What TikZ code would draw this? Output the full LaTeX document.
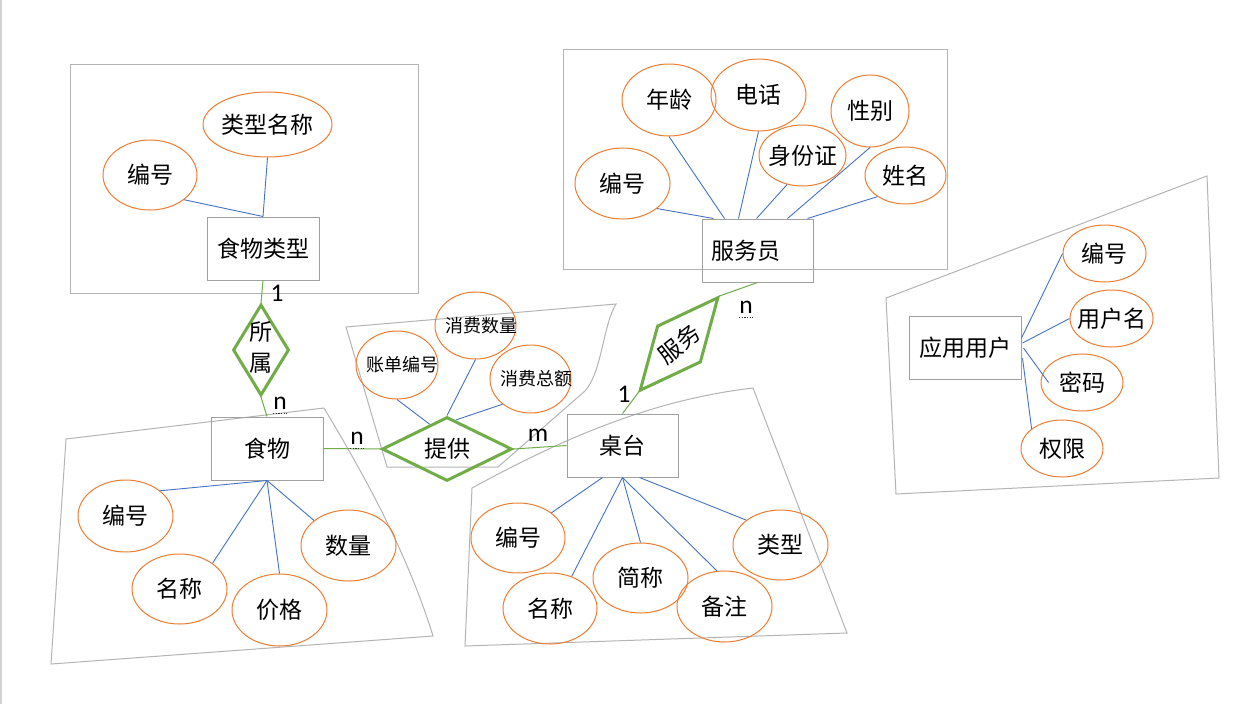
\documentclass[tikz,border=0pt]{standalone}
\usepackage{fontspec}
\usepackage{graphicx}
\setmainfont{Carlito}
\newfontfamily\cjk{Noto Sans CJK SC}
\usetikzlibrary{shapes.geometric,calc}
\definecolor{attrline}{HTML}{4472C4}
\definecolor{attrring}{HTML}{ED7D31}
\definecolor{relgreen}{HTML}{70AD47}
\definecolor{groupline}{HTML}{B4B4B4}
\definecolor{entityline}{HTML}{A0A0A0}
% zero-width text so that the ellipse size comes only from its minimum size
\newcommand{\zw}[1]{\makebox[0pt]{#1}}

\begin{document}
\begin{tikzpicture}[x=1pt,y=-1pt,
  font=\cjk\fontsize{23}{28}\selectfont,
  group/.style={draw=groupline, line width=1pt},
  entity/.style={draw=entityline, line width=1pt, rectangle, inner sep=0pt,
    minimum width=112pt, minimum height=63pt},
  attr/.style 2 args={draw=attrring, line width=1pt, ellipse, inner sep=0pt,
    minimum width=#1pt, minimum height=#2pt},
  smallattr/.style={font=\cjk\fontsize{18}{22}\selectfont},
  rel/.style={draw=relgreen, line width=3pt, diamond, inner sep=0pt},
  link/.style={draw=attrline, line width=0.9pt},
  relink/.style={draw=relgreen, line width=1pt},
  card/.style={font=\rmfamily\fontsize{25.5}{30}\selectfont, inner sep=0pt},
  spell/.style={draw=black!80, line width=1pt, dash pattern=on 1.3pt off 1.3pt},
]
\fill[white] (0,0) rectangle (1260,704);
\useasboundingbox (0,0) rectangle (1260,704);
\draw[gray!35, line width=1.5pt] (1,0) -- (1,704);

% ---------- grouping outlines ----------
\draw[group] (70,64) rectangle (418,293);
\draw[group] (563,49) rectangle (947,269);
\draw[group] (66,439) -- (324,408) .. controls (355,460) and (405,545) .. (433,636)
  -- (51,664) -- cycle;
\draw[group] (346,327) -- (616,304) .. controls (603,325) and (602,372) .. (585,391)
  -- (498,467) -- (387,467) -- cycle;
\draw[group] (472,488) .. controls (560,440) and (650,400) .. (753,388)
  -- (847,633) -- (465,646) -- cycle;
\draw[group] (886,298) -- (1207,176) -- (1219,478) -- (896,494) -- cycle;

% ---------- food type ----------
\node[entity] (ft) at (263,248.5) {食物类型};
\node[attr={94}{70}] (ftid) at (150,175) {\zw{编号}};
\node[attr={129}{65}] (ftname) at (267.5,124.5) {\zw{类型名称}};
\draw[link] (ft.north) -- (ftid.-36);
\draw[link] (ft.north) -- (ftname.south);

% ---------- waiter ----------
\node[entity, minimum width=111pt] (wt) at (757.5,250.5) {\zw{\hspace{-23pt}服务员}};
\node[attr={95}{71}] (wid) at (622.5,183.5) {\zw{编号}};
\node[attr={94}{72}] (wage) at (669,100) {\zw{年龄}};
\node[attr={95}{72}] (wtel) at (758.5,95) {\zw{电话}};
\node[attr={87}{61}] (wcard) at (802.5,155.5) {\zw{身份证}};
\node[attr={78}{72}] (wsex) at (870,111) {\zw{性别}};
\node[attr={81}{57}] (wname) at (905.5,175.5) {\zw{姓名}};
\draw[link] ($(wt.north west)+(12,0)$) -- (wid.-36.5);
\draw[link] ($(wt.north west)+(23,0)$) -- (wage.south);
\draw[link] ($(wt.north west)+(37,0)$) -- (wtel.south);
\draw[link] ($(wt.north west)+(55,0)$) -- (wcard.-118);
\draw[link] ($(wt.north west)+(86,0)$) -- (wsex.south);
\draw[link] ($(wt.north west)+(106,0)$) -- (wname.-143);

% ---------- food ----------
\node[entity] (fd) at (267,448.5) {食物};
\node[attr={95}{72}] (fdid) at (125.5,516) {\zw{编号}};
\node[attr={95}{70}] (fdname) at (179.5,589) {\zw{名称}};
\node[attr={95}{72}] (fdprice) at (279.5,610) {\zw{价格}};
\node[attr={95}{71}] (fdqty) at (348.5,545.5) {\zw{数量}};
\draw[link] (fd.south) -- (fdid.36);
\draw[link] (fd.south) -- (fdname.38);
\draw[link] (fd.south) -- (fdprice.north);
\draw[link] (fd.south) -- (fdqty.144);

% ---------- supply (relationship with attributes) ----------
\node[rel, minimum width=130pt, minimum height=64pt] (pv) at (447,449) {\zw{提供}};
\node[attr={82}{68}, smallattr] (pvbill) at (397,365) {\zw{\hspace{11pt}账单编号}};
\node[attr={81}{67}, smallattr] (pvqty) at (475.5,325.5) {\zw{\hspace{11pt}消费数量}};
\node[attr={81}{68}, smallattr] (pvsum) at (530.5,379) {\zw{\hspace{11pt}消费总额}};
\draw[link] (pv.125) -- (pvbill.south);
\draw[link] (pv.north) -- (pvqty.south);
\draw[link] (pv.73) -- (pvsum.-138);

% ---------- table ----------
\node[entity, minimum width=111pt] (tb) at (622.5,445.5) {桌台};
\node[attr={94}{70}] (tbid) at (518,538) {\zw{编号}};
\node[attr={94}{71}] (tbname) at (550,608.5) {\zw{名称}};
\node[attr={95}{70}] (tbshort) at (640.5,578) {\zw{简称}};
\node[attr={95}{71}] (tbnote) at (724.5,606.5) {\zw{备注}};
\node[attr={95}{70}] (tbtype) at (780.5,545) {\zw{类型}};
\draw[link] ($(tb.south west)+(36,0)$) -- (tbid.37);
\draw[link] ($(tb.south west)+(56,0)$) -- (tbname.56);
\draw[link] ($(tb.south west)+(56,0)$) -- (tbshort.north);
\draw[link] ($(tb.south west)+(56,0)$) -- (tbnote.102);
\draw[link] ($(tb.south west)+(73,0)$) -- (tbtype.144);

% ---------- app user ----------
\node[entity] (us) at (965,347.5) {应用用户};
\node[attr={83}{57}] (usid) at (1104.5,253.5) {\zw{编号}};
\node[attr={83}{57}] (usname) at (1111.5,318.5) {\zw{用户名}};
\node[attr={82}{57}] (uspw) at (1082,382.5) {\zw{密码}};
\node[attr={82}{57}] (usrole) at (1062,448.5) {\zw{权限}};
\draw[link] ($(us.east)+(0,-9.5)$) -- (usid.west);
\draw[link] ($(us.east)+(1,-4.5)$) -- (usname.west);
\draw[link] ($(us.east)+(2,0.5)$) -- ($(uspw.west)+(8,0)$);
\draw[link] ($(us.east)+(1,10.5)$) -- (usrole.147);

% ---------- relationships ----------
\node[rel, aspect=0.6, minimum width=56pt, minimum height=91pt] (own) at (261,350)
  {\zw{\begin{tabular}{@{}c@{}}所\\[3pt]属\end{tabular}}};
\draw[relink] (ft.south) -- (own.north);
\draw[relink] (own.south) -- (fd.north);

\node[rel, rotate=50, minimum width=122pt, minimum height=57pt] (sv) at (679,344)
  {\zw{\rotatebox[origin=c]{-12}{服务}}};
\draw[relink] (sv.east) -- (wt.south);
\draw[relink] (sv.west) -- (tb.north);

\draw[relink] (fd.east) -- (pv.west);
\draw[relink] (pv.east) -- (tb.west);

% ---------- cardinalities ----------
\node[card] (c1) at (277,293) {1};
\node[card] (c2) at (280,403) {n};
\draw[spell] ([yshift=-4pt]c2.south west) -- ([yshift=-4pt]c2.south east);
\node[card] (c3) at (357,438.5) {n};
\draw[spell] ([yshift=-4pt]c3.south west) -- ([yshift=-4pt]c3.south east);
\node[card] (c4) at (538,435.5) {m};
\node[card] (c5) at (624,394.5) {1};
\node[card] (c6) at (746,307) {n};
\draw[spell] ([yshift=-4pt]c6.south west) -- ([yshift=-4pt]c6.south east);
\end{tikzpicture}
\end{document}
